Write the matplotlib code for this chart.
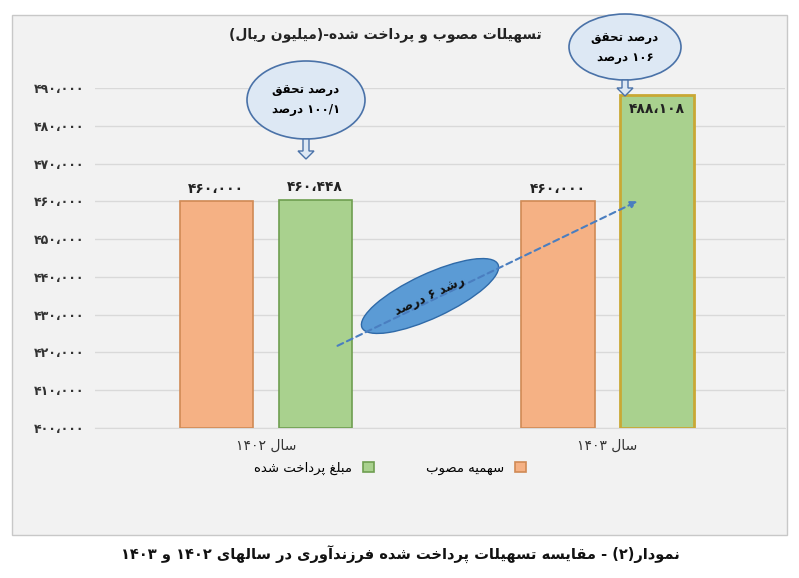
import unicodedata
import matplotlib
matplotlib.use("Agg")
import matplotlib.pyplot as plt
from matplotlib.patches import Ellipse, Rectangle, FancyArrow

plt.rcParams['font.family'] = ['DejaVu Sans']

# ---- data ----
categories = ["سال ۱۴۰۲", "سال ۱۴۰۳"]
approved = [460000, 460000]
paid = [460448, 488108]
approved_labels = ["۴۶۰،۰۰۰", "۴۶۰،۰۰۰"]
paid_labels = ["۴۶۰،۴۴۸", "۴۸۸،۱۰۸"]
yticks = [400000, 410000, 420000, 430000, 440000, 450000, 460000, 470000, 480000, 490000]
ytick_labels = ["۴۰۰،۰۰۰", "۴۱۰،۰۰۰", "۴۲۰،۰۰۰", "۴۳۰،۰۰۰", "۴۴۰،۰۰۰",
                "۴۵۰،۰۰۰", "۴۶۰،۰۰۰", "۴۷۰،۰۰۰", "۴۸۰،۰۰۰", "۴۹۰،۰۰۰"]
series_names = ["سهمیه مصوب", "مبلغ پرداخت شده"]
title = "تسهیلات مصوب و پرداخت شده-(میلیون ریال)"
caption = "نمودار(۲) - مقایسه تسهیلات پرداخت شده فرزندآوری در سال‌های ۱۴۰۲ و ۱۴۰۳"
callout1 = ["درصد تحقق", "۱۰۰/۱ درصد"]
callout2 = ["درصد تحقق", "۱۰۶ درصد"]
growth = "رشد ۶ درصد"

# ---- minimal Arabic shaping + visual ordering ----
RIGHT_ONLY = set("اآأإدذرزژوؤة")
def is_ar(c):
    return '\u0620' <= c <= '\u064A' or c in "پچژکگیۀ"
def form(c, f):
    try:
        return unicodedata.lookup(unicodedata.name(c) + " " + f + " FORM")
    except Exception:
        return c
def shape(s):
    out = []
    n = len(s)
    for i, c in enumerate(s):
        if not is_ar(c):
            out.append(c); continue
        prev = s[i-1] if i > 0 else ''
        nxt = s[i+1] if i < n-1 else ''
        jp = prev and is_ar(prev) and prev not in RIGHT_ONLY
        jn = nxt and is_ar(nxt) and c not in RIGHT_ONLY
        if jp and jn: f = "MEDIAL"
        elif jp: f = "FINAL"
        elif jn: f = "INITIAL"
        else: f = "ISOLATED"
        out.append(form(c, f))
    return "".join(out)
DIG = set("۰۱۲۳۴۵۶۷۸۹0123456789،/.")
def ar(s):
    s = shape(s.replace('\u200c', ''))
    toks = []
    i = 0
    while i < len(s):
        if s[i] in "۰۱۲۳۴۵۶۷۸۹0123456789":
            j = i
            while j < len(s) and s[j] in DIG:
                j += 1
            toks.append(s[i:j]); i = j
        else:
            c = s[i]
            c = {'(': ')', ')': '('}.get(c, c)
            toks.append(c); i += 1
    return "".join(reversed(toks))

W, H = 799, 578
fig = plt.figure(figsize=(W/100, H/100), dpi=100)
fig.patch.set_facecolor("white")

# frame
bg = fig.add_axes([0, 0, 1, 1], zorder=0)
bg.set_xlim(0, W); bg.set_ylim(H, 0); bg.axis("off")
bg.add_patch(Rectangle((12, 15), 775, 520, facecolor="#f2f2f2", edgecolor="#c8c8c8", lw=1))

ax = fig.add_axes([95/W, 1-428/H, 690/W, 340/H], zorder=1)
ax.set_facecolor("#f2f2f2")
x = [0, 1]
bw = 0.215
off = 0.145
ax.bar([i - off for i in x], [a - 400000 for a in approved], bw, bottom=400000,
       color="#f5b184", edgecolor="#d08a55", lw=1.2, label=ar(series_names[0]), zorder=3)
ax.bar([i + off for i in x], [p - 400000 for p in paid], bw, bottom=400000,
       color="#a9d18e", edgecolor=["#6f9e50", "#c9a835"], lw=[1.2, 2], label=ar(series_names[1]), zorder=3)
ax.set_ylim(400000, 490000)
ax.set_xlim(-0.5, 1.52)
ax.set_yticks(yticks)
ax.set_yticklabels(ytick_labels, fontsize=9, fontweight="bold", color="#333333")
ax.set_xticks(x)
ax.set_xticklabels([ar(c) for c in categories], fontsize=10, color="#333333")
ax.tick_params(length=0, pad=8)
ax.grid(axis="y", color="#d9d9d9", lw=1, zorder=0)
for s in ["top", "right", "left"]:
    ax.spines[s].set_visible(False)
ax.spines["bottom"].set_color("#d9d9d9")

for i in x:
    ax.text(i - off, approved[i] + 1500, ar(approved_labels[i]), ha="center", va="bottom",
            fontsize=10, fontweight="bold", color="#222222", zorder=4)
ax.text(0 + off, paid[0] + 1500, ar(paid_labels[0]), ha="center", va="bottom",
        fontsize=10, fontweight="bold", color="#222222", zorder=4)
ax.text(1 + off, paid[1] - 1800, ar(paid_labels[1]), ha="center", va="top",
        fontsize=10, fontweight="bold", color="#222222", zorder=4)

fig.legend(loc="center", bbox_to_anchor=(390/W, 1-468/H), ncol=2, frameon=False,
           fontsize=9.5, markerfirst=False, handlelength=0.8, handleheight=0.8,
           columnspacing=4, reverse=True)

# overlay
ov = fig.add_axes([0, 0, 1, 1], zorder=5)
ov.set_xlim(0, W); ov.set_ylim(H, 0); ov.axis("off")
ov.text(385, 35, ar(title), ha="center", va="center", fontsize=10, fontweight="bold", color="#222222")

def callout(cx, cy, w, h, lines, ax_top, ax_bot):
    ov.add_patch(Ellipse((cx, cy), w, h, facecolor="#dde8f4", edgecolor="#4a72a8", lw=1.2))
    ov.text(cx, cy - 10, ar(lines[0]), ha="center", va="center", fontsize=8.5, fontweight="bold")
    ov.text(cx, cy + 10, ar(lines[1]), ha="center", va="center", fontsize=8.5, fontweight="bold")
    ov.add_patch(FancyArrow(cx, ax_top, 0, ax_bot - ax_top, width=6, head_width=16,
                            head_length=8, length_includes_head=True,
                            facecolor="#dde8f4", edgecolor="#4a72a8", lw=1))

callout(306, 100, 118, 78, callout1, 139, 159)
callout(625, 47, 112, 66, callout2, 80, 96)

ov.annotate("", xy=(640, 200), xytext=(335, 347),
            arrowprops=dict(arrowstyle="-|>", ls=(0, (3, 2)), color="#4a7ec0", lw=1.5))
ov.add_patch(Ellipse((430, 296), 150, 44, angle=-25, facecolor="#5b9bd5", edgecolor="#2f6aa8", lw=1))
ov.text(430, 296, ar(growth), ha="center", va="center", rotation=25, fontsize=9,
        fontweight="bold", color="#111111")

ov.text(400, 555, ar(caption), ha="center", va="center", fontsize=10.5,
        fontweight="bold", color="#111111")

fig.savefig("out.png", dpi=100)
